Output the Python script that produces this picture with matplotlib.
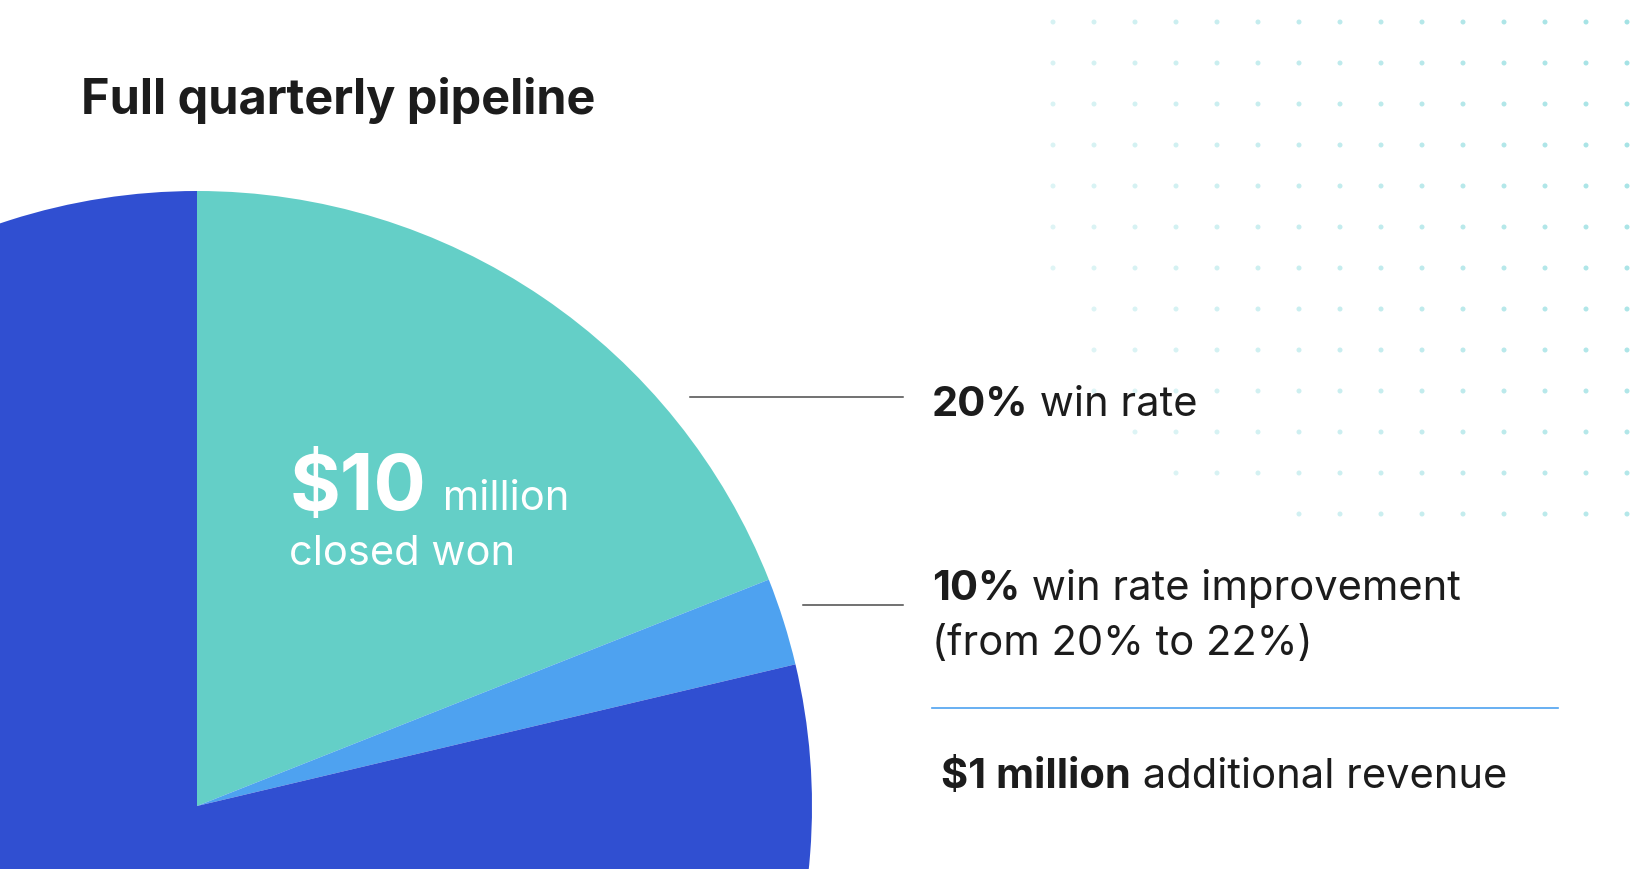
import numpy as np
import matplotlib.pyplot as plt
from matplotlib.patches import FancyBboxPatch

W, H = 1652, 870

# pipeline shares (teal = closed won, light blue = improvement, rest)
shares = [19.0, 2.3, 78.7]
colors = ['#64cfc7', '#4ea2f0', '#304fd1']

title = "Full quarterly pipeline"
big_value = "$10"
big_unit = "million"
big_caption = "closed won"
notes = [("20%", " win rate"), ("10%", " win rate improvement")]
note_second = "(from 20% to 22%)"
result_bold = "$1 million"
result_rest = " additional revenue"

ink = '#1c1c1c'
plt.rcParams['font.family'] = ['Inter', 'DejaVu Sans']

fig = plt.figure(figsize=(W / 100, H / 100), dpi=100)
ax = fig.add_axes([0, 0, 1, 1])
ax.set_xlim(0, W)
ax.set_ylim(0, H)
ax.set_aspect('equal')
ax.axis('off')

def Y(y):
    return H - y

# card with rounded corners, used to clip the pie
card = FancyBboxPatch((0, 0), W, H, boxstyle="round,pad=0,rounding_size=14",
                      facecolor='white', edgecolor='none', zorder=0)
ax.add_patch(card)

wedges, _ = ax.pie(shares, colors=colors, startangle=90, counterclock=False,
                   center=(197, Y(807)), radius=615, frame=True,
                   wedgeprops=dict(linewidth=0))
for w in wedges:
    w.set_clip_path(card)
ax.set_xlim(0, W)
ax.set_ylim(0, H)
ax.axis('off')

# dotted background, fades out towards the lower left
row_start = [0, 0, 0, 0, 0, 0, 0, 1, 1, 1, 2, 3, 6]
xs, ys, al = [], [], []
for j, s in enumerate(row_start):
    for i in range(s, 15):
        xs.append(1053 + 41 * i)
        ys.append(Y(23 + 41 * j))
        al.append(0.35 + 0.45 * (i / 14) - 0.15 * (j / 12))
dot_cols = np.zeros((len(xs), 4))
dot_cols[:, :3] = [0.55, 0.86, 0.87]
dot_cols[:, 3] = np.clip(al, 0.15, 1)
ax.scatter(xs, ys, s=13, c=dot_cols, linewidths=0, zorder=1)

fig.canvas.draw()
r = fig.canvas.get_renderer()

def pair(x, y, bold, rest, size, bsize=None, color=ink, gap=0):
    t = ax.text(x, Y(y), bold, fontsize=bsize or size, fontweight='bold',
                color=color, va='baseline', ha='left', zorder=5)
    bb = t.get_window_extent(renderer=r)
    ax.text(bb.x1 + gap, Y(y), rest, fontsize=size, color=color,
            va='baseline', ha='left', zorder=5)

ax.text(81, Y(114), title, fontsize=35, fontweight='bold', color=ink,
        va='baseline', ha='left')

pair(290, 510, big_value, " " + big_unit, 30, bsize=56, color='white', gap=4)
ax.text(289, Y(565), big_caption, fontsize=30, color='white', va='baseline')

pair(932, 416, notes[0][0], notes[0][1], 30)
pair(932, 600, notes[1][0], notes[1][1], 30)
ax.text(932, Y(655), note_second, fontsize=30, color=ink, va='baseline')
pair(941, 788, result_bold, result_rest, 30)

# connector lines and separator
ax.plot([690, 903], [Y(398), Y(398)], color='#4a4a4a', lw=1.1)
ax.plot([803, 903], [Y(606), Y(606)], color='#4a4a4a', lw=1.1)
ax.plot([932, 1558], [Y(709), Y(709)], color='#4ea2f0', lw=1.2)

fig.savefig('out.png', dpi=100)
